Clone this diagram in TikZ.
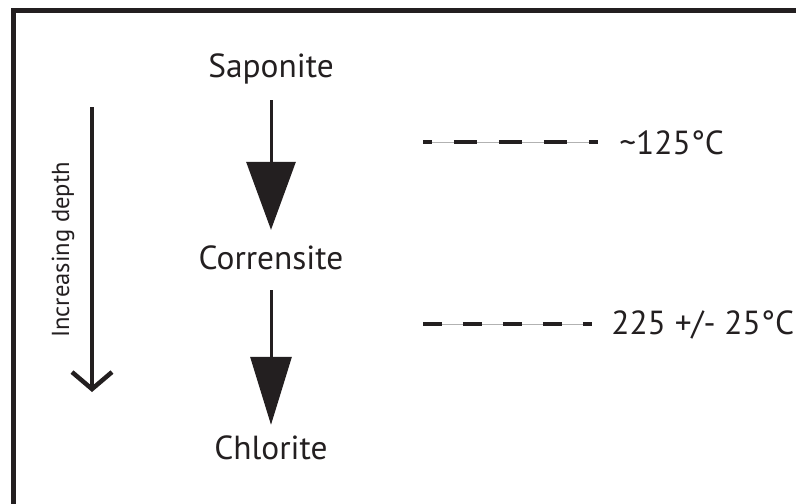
\documentclass[tikz,border=0pt]{standalone}
\usepackage{fontspec}
\setmainfont{PT Sans}
\usetikzlibrary{arrows.meta}
\definecolor{ink}{HTML}{231F20}

\begin{document}
\begin{tikzpicture}[x=0.02cm,y=-0.02cm,
		mineral/.style={inner sep=0pt,text height=13.5pt,text depth=4.5pt,font=\fontsize{19}{22}\selectfont,text=ink},
		templabel/.style={anchor=west,inner sep=0pt,font=\fontsize{19}{22}\selectfont,text=ink},
		flow/.style={draw=ink,line width=0.06cm},
		isograd/.style={draw=ink,line width=0.08cm}]
		\useasboundingbox (0,0) rectangle (796,504);
		
		% frame (only left and top edges show)
		\draw[ink,line width=0.1cm] (13.5,504) -- (13.5,10.5) -- (796,10.5);
		
		% the minerals
		\node[mineral] (sap) at (271,70) {Saponite};
		\node[mineral] (corr) at (271,262) {Corrensite};
		\node[mineral] (chl) at (271,452) {Chlorite};
		
		\draw[flow,-{Triangle[length=1.36cm,width=0.98cm]},shorten <=0.28cm,shorten >=0.32cm] (sap) -- (corr);
		\draw[flow,-{Triangle[length=1.36cm,width=0.82cm]},shorten <=0.24cm,shorten >=0.22cm] (corr) -- (chl);
		
		% depth arrow
		\coordinate (dtop) at (92,107);
		\coordinate (dbot) at (92,392);
		\draw[ink,line width=0.09cm,-{Straight Barb[length=0.34cm,width=0.8cm]}] (dtop) -- (dbot);
		\node[rotate=90,inner sep=0pt,text=ink,font=\fontsize{14}{16}\selectfont] (depth) at (63,250) {Increasing depth};
		
		% temperatures
		\coordinate (a1) at (423,142);
		\coordinate (b1) at (598,142);
		\coordinate (a2) at (423,324);
		\coordinate (b2) at (592,324);
		\foreach \p/\q in {a1/b1, a2/b2}{
			\draw[black!30,line width=0.3pt] (\p) -- (\q);
		}
		\draw[isograd,dash pattern=on 0.46cm off 0.44cm,dash phase=0.28cm] (a1) -- (b1);
		\draw[isograd,dash pattern=on 0.38cm off 0.42cm] (a2) -- (b2);
		\node[templabel] (t1) at (619,143) {\textasciitilde 125°C};
		\node[templabel] (t2) at (611,325) {225 +/- 25°C};
	\end{tikzpicture}
\end{document}
